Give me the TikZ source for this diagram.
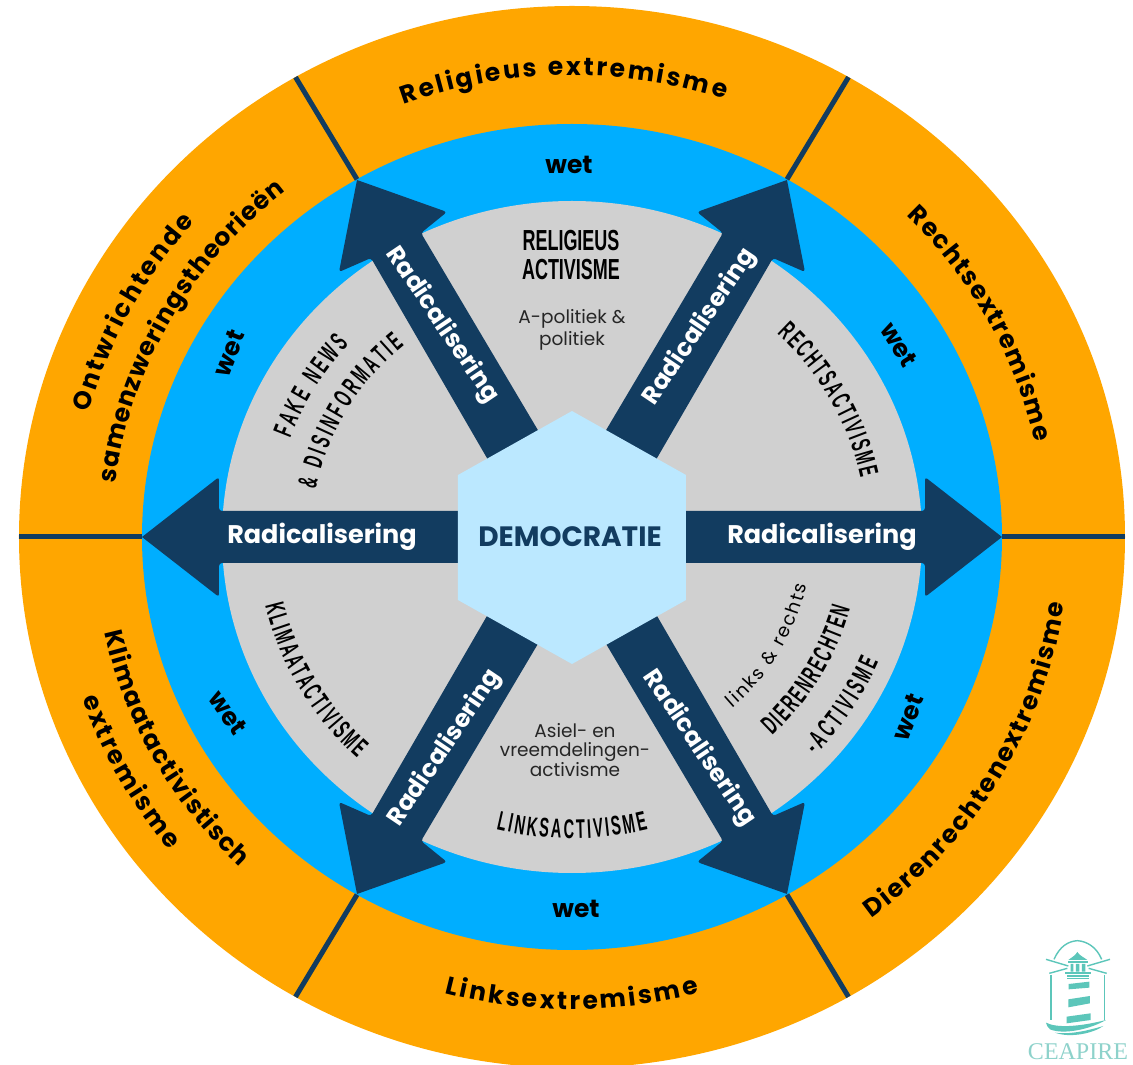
\documentclass[tikz,border=0pt]{standalone}
\usepackage{fontspec}
\setmainfont{Poppins}
\newfontfamily\bebas[FakeStretch=0.62]{Liberation Sans}
\newfontfamily\bebasarc[FakeStretch=0.54]{Liberation Sans}
\newfontfamily\logofont{Liberation Serif}
\usetikzlibrary{decorations.text}
\definecolor{cOrange}{HTML}{FFA600}
\definecolor{cBlue}{HTML}{00AEFF}
\definecolor{cGray}{HTML}{D0D0D0}
\definecolor{cNavy}{HTML}{123C60}
\definecolor{cHex}{HTML}{BBE8FF}
\definecolor{cTeal}{HTML}{5CC6BA}
\definecolor{cTealText}{HTML}{8ED2CB}
\newcommand\orfont{\fontsize{25}{25}\selectfont\bfseries}
\newcommand\cofont{\fontsize{27}{27}\selectfont\bebasarc\bfseries}
\newcommand\cobigfont{\fontsize{29}{29}\selectfont\bebas\bfseries}
\newcommand\lightfont{\fontsize{18.5}{18.5}\selectfont}
\newcommand\arctext[5]{\path[decorate,decoration={text along path,text align=fit to path,text={|#4|#5}}]
  ({#2}:#1 and {0.96*#1}) arc[start angle=#2,end angle=#3,x radius=#1,y radius={0.96*#1}];}
\newcommand\diagarrow[2]{\begin{scope}[xscale=#1,yscale=#2]
  \fill[cNavy,rounded corners=3] (30,100) -- (81,72) -- (201,279) -- (233,265) [sharp corners] -- (215,357) [rounded corners=3] -- (125,325) -- (151,304) -- (30,100) -- cycle;
  \end{scope}}
\newcommand\horarrow[1]{\begin{scope}[xscale=#1]
  \fill[cNavy,rounded corners=3] (100,26) -- (353,26) -- (353,60) [sharp corners] -- (430,0) [rounded corners=3] -- (353,-60) -- (353,-26) -- (100,-26) -- cycle;
  \end{scope}}
\tikzset{
  radlabel/.style={text=white,font=\fontsize{25.5}{25.5}\selectfont\bfseries,inner sep=0},
  raddiag/.style={text=white,font=\fontsize{24.5}{24.5}\selectfont\bfseries,inner sep=0},
  wetlabel/.style={text=black,font=\fontsize{25}{25}\selectfont\bfseries,inner sep=0},
  condlabel/.style={text=black,font=\cobigfont,inner sep=0},
  smalllabel/.style={text=black!85,font=\lightfont,inner sep=0,align=center},
  spoke/.style={draw=cNavy,line width=5}
}
\begin{document}
\begin{tikzpicture}[x=1pt,y=1pt]
\useasboundingbox (-572,-528) rectangle (561,537);
\clip (-572,-528) rectangle (561,537);
\fill[white] (-572,-528) rectangle (561,537);
% discs
\fill[cOrange] (0,0) ellipse [x radius=553,y radius=531];
\fill[cBlue] (0,0) ellipse [x radius=430,y radius=413];
\fill[cGray] (0,0) ellipse [x radius=350,y radius=336];
% spokes
\foreach \a in {0,60,120,180,240,300}
  \draw[spoke] (\a:430 and 413) -- (\a:553 and 531);
% arrows
\diagarrow{1}{1}\diagarrow{-1}{1}\diagarrow{1}{-1}\diagarrow{-1}{-1}
\horarrow{1}\horarrow{-1}
% hexagon
\fill[cHex] (0,126) -- (114,62) -- (114,-63) -- (0,-127) -- (-114,-63) -- (-114,62) -- cycle;
\node[font=\fontsize{28}{28}\selectfont\bfseries,text=cNavy,inner sep=0] (demo) at (-2,0) {DEMOCRATIE};
% arrow labels
\node[radlabel] (radR) at (250,0) {Radicalisering};
\node[radlabel] (radL) at (-250,0) {Radicalisering};
\node[raddiag,rotate=56] (radUR) at (128,210) {Radicalisering};
\node[raddiag,rotate=-56] (radUL) at (-130,212) {Radicalisering};
\node[raddiag,rotate=56] (radLL) at (-127,-211) {Radicalisering};
\node[raddiag,rotate=-56] (radLR) at (127,-211) {Radicalisering};
% wet labels
\node[wetlabel] (wetT) at (-3,372) {wet};
\node[wetlabel] (wetB) at (4,-372) {wet};
\node[wetlabel,rotate=-58] (wetUR) at (327,192) {wet};
\node[wetlabel,rotate=68] (wetLR) at (336,-180) {wet};
\node[wetlabel,rotate=68] (wetUL) at (-343,184) {wet};
\node[wetlabel,rotate=-55] (wetLL) at (-344,-176) {wet};
% outer ring texts
\arctext{481}{110.5}{71.5}{\orfont}{Religieus extremisme}
\arctext{473}{45}{12}{\orfont}{Rechtsextremisme}
\arctext{497}{-53}{-8}{\orfont}{Dierenrechtenextremisme}
\arctext{492}{-105}{-75}{\orfont}{Linksextremisme}
\arctext{478}{192}{226}{\orfont}{Klimaatactivistisch}
\arctext{518}{199}{219}{\orfont}{extremisme}
\arctext{500}{165}{139}{\orfont}{Ontwrichtende}
\arctext{460}{173}{128.5}{\orfont}{samenzweringstheorieën}
% inner texts
\node[condlabel] (relA) at (-1,296) {RELIGIEUS};
\node[condlabel] (relB) at (-1,267) {ACTIVISME};
\node[smalllabel] (relC) at (0,207) {A-politiek \&\\[2pt]politiek};
\arctext{295}{46}{12}{\cofont}{RECHTSACTIVISME}
\arctext{300}{160}{138}{\cofont}{FAKE NEWS}
\arctext{261}{169}{130}{\cofont}{{\&} DISINFORMATIE}
\arctext{315}{193}{227}{\cofont}{KLIMAATACTIVISME}
\arctext{240}{-48}{-12}{\lightfont}{links {\&} rechts}
\arctext{288}{-46}{-15}{\cofont}{DIERENRECHTEN}
\arctext{333}{-43}{-23}{\cofont}{-ACTIVISME}
\node[smalllabel] (asiel) at (3,-213) {Asiel- en\\[0pt]vreemdelingen-\\[0pt]activisme};
\arctext{314}{256}{284}{\cofont}{LINKSACTIVISME}
% logo
\begin{scope}[shift={(428,-383)},x=0.3333,y=-0.3333]
  \draw[cTeal,line width=1.4] (162,118) .. controls (180,78) and (205,64) .. (232,62) .. controls (262,64) and (290,82) .. (305,118);
  \draw[cTeal,line width=1.4] (138,118) -- (205,138) (330,118) -- (262,138);
  \draw[cTeal,line width=1.4] (148,160) -- (202,145) (320,160) -- (266,145);
  \fill[cTeal] (205,120) .. controls (215,112) and (225,108) .. (232,96) .. controls (240,108) and (252,112) .. (262,120) -- cycle;
  \fill[cTeal] (205,124) rectangle (263,130);
  \fill[cTeal] (212,132) rectangle (220,155) (228,132) rectangle (238,155) (246,132) rectangle (256,155);
  \fill[cTeal] (196,155) rectangle (272,163);
  \draw[cTeal,line width=1.2] (202,168) -- (266,168) (202,176) -- (266,176);
  \draw[cTeal,line width=1.4] (153,165) -- (153,300) (313,165) -- (313,300);
  \fill[cTeal] (206,192) -- (268,185) -- (268,203) -- (206,208) -- cycle;
  \fill[cTeal] (205,238) -- (270,228) -- (270,250) -- (205,262) -- cycle;
  \fill[cTeal] (200,290) -- (272,280) -- (272,300) -- (200,310) -- cycle;
  \fill[cTeal] (138,308) .. controls (170,325) and (240,320) .. (318,300) .. controls (270,328) and (190,345) .. (150,328) .. controls (142,322) and (140,315) .. (138,308) -- cycle;
  \fill[cTeal] (165,338) .. controls (210,345) and (270,330) .. (310,318) .. controls (280,340) and (210,355) .. (165,338) -- cycle;
\end{scope}
\node[text=cTealText,font=\fontsize{24}{24}\logofont,inner sep=0] (logo) at (506,-515) {CEAPIRE};
\end{tikzpicture}
\end{document}
